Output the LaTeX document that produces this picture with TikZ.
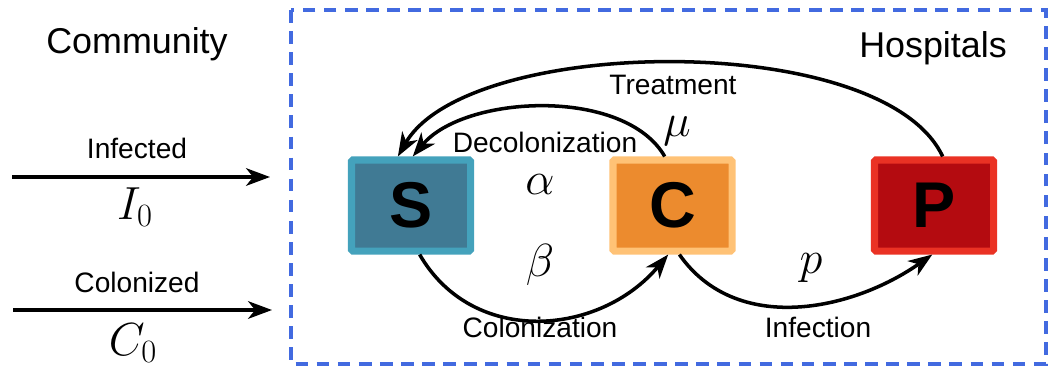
\RequirePackage{fix-cm}
\documentclass[tikz,border=0pt]{standalone}
\usepackage{amsmath}
\usepackage[no-math]{fontspec}
\setmainfont{Liberation Sans}
\usepackage{xcolor}
\usepackage{tikz}
\usetikzlibrary{arrows.meta,positioning}

\definecolor{hospblue}{RGB}{66,106,224}
\definecolor{sborder}{RGB}{68,162,188}
\definecolor{sfill}{RGB}{64,122,148}
\definecolor{cborder}{RGB}{255,194,118}
\definecolor{cfill}{RGB}{236,139,46}
\definecolor{pborder}{RGB}{234,50,36}
\definecolor{pfill}{RGB}{180,11,16}

\begin{document}
\begin{tikzpicture}[
  x=0.025cm,y=0.025cm,
  >={Stealth[length=17pt,width=12.5pt,inset=5pt]},
  compartment/.style={rectangle,rounded corners=1pt,line width=5pt,
    minimum width=2.975cm,minimum height=2.275cm,inner sep=0pt,
    font=\fontsize{46}{50}\selectfont\bfseries},
  label text/.style={font=\fontsize{20}{24}\selectfont,anchor=base,inner sep=1pt},
  title text/.style={font=\fontsize{25.5}{30}\selectfont,anchor=base},
  rate/.style={font=\fontsize{33}{38}\selectfont,inner sep=0pt},
  flow/.style={->,line width=2.5pt}]
  % S-susceptible C-colonized P-infected patient
  \useasboundingbox (0,0) rectangle (1048,-370);
  \draw[hospblue,dash pattern=on 9pt off 6pt,line width=2.4pt]
    (291,-10) rectangle (1046,-364);

  \node [compartment,draw=sborder,fill=sfill] (S) at (411,-205.5) {S};
  \node [compartment,draw=cborder,fill=cfill] (C) at (672.5,-205.5) {C};
  \node [compartment,draw=pborder,fill=pfill] (P) at (934,-205.5) {P};

  \node [title text] (community) at (137,-53) {Community};
  \node [title text] (hospitals) at (933,-57) {Hospitals};

  % admissions from the community
  \coordinate (inf0) at (12,-177);
  \coordinate (inf1) at (270,-177);
  \coordinate (col0) at (13,-310);
  \coordinate (col1) at (272,-310);
  \draw [flow] (inf0) -- (inf1);
  \draw [flow] (col0) -- (col1);
  \node [label text] (infected) at (137,-158) {Infected};
  \node [rate] (I0) at (135,-207) {$I_0$};
  \node [label text] (colonized) at (137,-292) {Colonized};
  \node [rate] (C0) at (133,-343) {$C_0$};

  % transitions inside the hospital
  \draw [flow] (S.-80) to[out=-60,in=-130,looseness=1.1] (C.-95);
  \draw [flow] (C.-82) to[out=-55,in=-145] (P.-92);
  \draw [flow] (C.99) to[out=120,in=50,looseness=0.82] (S.88);
  \draw [flow] (P.80) to[out=115,in=60,looseness=0.66] (S.105);

  \node [label text] (colonization) at (540,-337) {Colonization};
  \node [rate] (beta) at (540,-265) {$\beta$};
  \node [label text] (infection) at (818,-337) {Infection};
  \node [rate] (prob) at (811,-268) {$p$};
  \node [label text] (decolonization) at (545,-152) {Decolonization};
  \node [rate] (alpha) at (540,-185) {$\alpha$};
  \node [label text] (treatment) at (673,-94) {Treatment};
  \node [rate] (mu) at (677,-131) {$\mu$};
\end{tikzpicture}
\end{document}
